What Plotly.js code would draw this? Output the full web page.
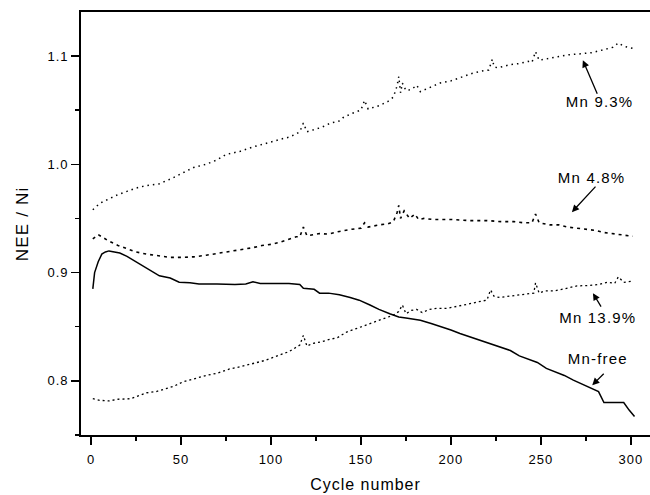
<!DOCTYPE html>
<html>
<head>
<meta charset="utf-8">
<script src="https://cdn.plot.ly/plotly-3.0.1.min.js"></script>
<style>
  html, body { margin: 0; padding: 0; background: #fff; }
  #plot { width: 650px; height: 495px; }
  #plot .annotation-text { letter-spacing: 1.2px; }
  #plot .xtitle, #plot .ytitle { letter-spacing: 1px; }
  #plot .xtick text, #plot .ytick text { letter-spacing: 1px; }
</style>
</head>
<body>
<div id="plot"></div>
<script>
// ---- data ----
const mn93_x = [1, 5, 10, 15, 20, 25, 30, 38, 45, 50, 57, 64, 70, 75, 83, 90, 95, 101, 105, 110, 114, 116, 118, 120, 124, 128, 133, 138, 140, 145, 150, 152, 154, 160, 165, 168, 170, 171, 172, 173, 175, 178, 181, 183, 187, 194, 200, 207, 212, 217, 221, 223, 224, 226, 230, 233, 238, 243, 245, 247, 249, 255, 260, 265, 272, 278, 283, 287, 290, 293, 296, 301];
const mn93_y = [0.958, 0.964, 0.968, 0.972, 0.975, 0.978, 0.980, 0.982, 0.987, 0.991, 0.997, 1.000, 1.004, 1.009, 1.012, 1.016, 1.018, 1.021, 1.023, 1.025, 1.028, 1.030, 1.038, 1.030, 1.032, 1.034, 1.038, 1.040, 1.043, 1.047, 1.050, 1.059, 1.051, 1.054, 1.058, 1.062, 1.072, 1.081, 1.066, 1.075, 1.068, 1.069, 1.073, 1.067, 1.070, 1.075, 1.077, 1.081, 1.084, 1.086, 1.087, 1.097, 1.090, 1.089, 1.091, 1.092, 1.093, 1.095, 1.094, 1.104, 1.096, 1.098, 1.099, 1.101, 1.102, 1.103, 1.105, 1.107, 1.108, 1.112, 1.109, 1.107];

const mn48_x = [1, 4, 7, 10, 15, 20, 25, 31, 38, 44, 50, 57, 64, 72, 80, 90, 95, 100, 105, 109, 114, 116, 118, 120, 127, 132, 138, 145, 150, 152, 154, 160, 165, 168, 170, 171, 172, 174, 177, 180, 182, 185, 190, 200, 210, 220, 228, 235, 240, 245, 247, 249, 255, 260, 265, 270, 275, 280, 285, 290, 295, 301];
const mn48_y = [0.931, 0.935, 0.932, 0.929, 0.925, 0.922, 0.919, 0.917, 0.915, 0.914, 0.914, 0.9145, 0.916, 0.918, 0.920, 0.923, 0.925, 0.926, 0.928, 0.930, 0.933, 0.933, 0.942, 0.934, 0.936, 0.9355, 0.938, 0.940, 0.941, 0.946, 0.942, 0.944, 0.945, 0.947, 0.955, 0.962, 0.950, 0.957, 0.950, 0.954, 0.949, 0.950, 0.949, 0.949, 0.948, 0.948, 0.947, 0.947, 0.946, 0.946, 0.954, 0.946, 0.944, 0.944, 0.942, 0.941, 0.940, 0.939, 0.937, 0.936, 0.935, 0.9335];

const mn139_x = [1, 5, 10, 15, 22, 26, 31, 36, 42, 46, 51, 57, 64, 70, 77, 83, 90, 97, 105, 110, 114, 116, 118, 120, 123, 128, 132, 137, 142, 147, 152, 157, 162, 168, 171, 173, 175, 178, 181, 184, 188, 192, 198, 205, 210, 215, 220, 222, 224, 227, 232, 238, 243, 246, 247, 249, 252, 257, 263, 270, 276, 282, 287, 291, 293, 296, 301];
const mn139_y = [0.7835, 0.782, 0.7815, 0.783, 0.7835, 0.786, 0.789, 0.790, 0.793, 0.795, 0.799, 0.802, 0.805, 0.807, 0.811, 0.813, 0.816, 0.819, 0.824, 0.827, 0.831, 0.833, 0.842, 0.832, 0.8345, 0.836, 0.838, 0.840, 0.845, 0.848, 0.851, 0.8545, 0.857, 0.8607, 0.864, 0.870, 0.862, 0.865, 0.866, 0.863, 0.866, 0.867, 0.867, 0.869, 0.871, 0.873, 0.8745, 0.884, 0.878, 0.877, 0.878, 0.879, 0.880, 0.881, 0.8905, 0.881, 0.883, 0.883, 0.885, 0.8877, 0.888, 0.889, 0.891, 0.890, 0.896, 0.891, 0.892];

const mnfree_x = [1, 2, 4, 6, 8, 10, 13, 16, 20, 25, 29, 33, 38, 44, 49, 55, 60, 70, 80, 86, 90, 94, 100, 106, 110, 116, 118, 124, 127, 132, 138, 144, 149, 155, 160, 166, 171, 175, 179, 183, 189, 194, 200, 205, 210, 216, 222, 227, 233, 238, 242, 248, 253, 258, 263, 268, 273, 276, 279, 282, 285, 289, 293, 296, 299, 302];
const mnfree_y = [0.885, 0.900, 0.910, 0.917, 0.919, 0.920, 0.919, 0.918, 0.915, 0.910, 0.906, 0.902, 0.897, 0.895, 0.891, 0.8905, 0.8895, 0.8895, 0.889, 0.8895, 0.8915, 0.890, 0.890, 0.8895, 0.890, 0.889, 0.8855, 0.8845, 0.881, 0.881, 0.8795, 0.877, 0.8745, 0.870, 0.866, 0.862, 0.859, 0.858, 0.857, 0.856, 0.853, 0.8505, 0.847, 0.8437, 0.841, 0.8376, 0.834, 0.8314, 0.828, 0.823, 0.8207, 0.817, 0.8115, 0.808, 0.805, 0.8006, 0.797, 0.7945, 0.792, 0.790, 0.780, 0.780, 0.780, 0.780, 0.773, 0.767];

const seriesNames = ["Mn 9.3%", "Mn 4.8%", "Mn 13.9%", "Mn-free"];
const xTickVals = [0, 50, 100, 150, 200, 250, 300];
const yTickVals = [0.8, 0.9, 1.0, 1.1];
const xTitle = "Cycle number";
const yTitle = "NEE / Ni";

// ---- traces ----
const black = "#000";
const traces = [
  {x: mn93_x, y: mn93_y, name: seriesNames[0], mode: "lines", line: {color: black, width: 1.5, dash: "1.5px,4px"}},
  {x: mn48_x, y: mn48_y, name: seriesNames[1], mode: "lines", line: {color: black, width: 1.6, dash: "3px,4px"}},
  {x: mn139_x, y: mn139_y, name: seriesNames[2], mode: "lines", line: {color: black, width: 1.3, dash: "2px,3px"}},
  {x: mnfree_x, y: mnfree_y, name: seriesNames[3], mode: "lines", line: {color: black, width: 1.5}}
];

const font = {family: "Liberation Sans, Arial, sans-serif", color: black};

function labelAnn(text, x, y) {
  return {x: x, y: y, xref: "x", yref: "y", text: text, showarrow: false,
          font: Object.assign({}, font, {size: 15}), xanchor: "center", yanchor: "middle"};
}
function arrowAnn(x, y, ax, ay) {
  return {x: x, y: y, xref: "x", yref: "y", text: "", showarrow: true,
          ax: ax, ay: ay, arrowhead: 2, arrowsize: 1.1, arrowwidth: 1.3, arrowcolor: black, standoff: 0};
}

const layout = {
  width: 650, height: 495,
  margin: {l: 81, r: 0, t: 12, b: 60},
  paper_bgcolor: "#fff", plot_bgcolor: "#fff",
  showlegend: false,
  font: Object.assign({}, font, {size: 13}),
  xaxis: {
    range: [-5.56, 310.6],
    tickvals: xTickVals, ticktext: xTickVals.map(String),
    ticks: "outside", ticklen: 8, tickwidth: 1.5, tickcolor: black,
    minor: {dtick: 25, tick0: 0, ticks: "outside", ticklen: 4, tickwidth: 1.5, tickcolor: black, showgrid: false},
    showline: true, linecolor: black, linewidth: 1.8, mirror: true,
    showgrid: false, zeroline: false,
    tickfont: Object.assign({}, font, {size: 13}),
    ticklabelstandoff: 4,
    title: {text: xTitle, font: Object.assign({}, font, {size: 16}), standoff: 12}
  },
  yaxis: {
    range: [0.75, 1.1406],
    tickvals: yTickVals, ticktext: yTickVals.map(v => v.toFixed(1)),
    ticksuffix: "\u2002\u2009",
    ticks: "outside", ticklen: 8, tickwidth: 1.5, tickcolor: black,
    minor: {dtick: 0.05, tick0: 0.75, ticks: "outside", ticklen: 4, tickwidth: 1.5, tickcolor: black, showgrid: false},
    showline: true, linecolor: black, linewidth: 1.8, mirror: false,
    showgrid: false, zeroline: false,
    tickfont: Object.assign({}, font, {size: 13})
  },
  annotations: [
    {x: -0.102, y: 0.5, xref: "paper", yref: "paper", text: yTitle, textangle: -90, showarrow: false,
     xanchor: "center", yanchor: "middle", font: Object.assign({}, font, {size: 17})},
    labelAnn(seriesNames[0], 282.8, 1.0576),
    labelAnn(seriesNames[1], 278.0, 0.9880),
    labelAnn(seriesNames[2], 281.7, 0.8587),
    labelAnn(seriesNames[3], 281.7, 0.8210),
    arrowAnn(273.3, 1.0961, 15, 35),
    arrowAnn(267.2, 0.9558, 25, -27),
    arrowAnn(278.9, 0.8810, 9, 15),
    arrowAnn(278.5, 0.7960, 13, -13)
  ]
};

Plotly.newPlot("plot", traces, layout, {displayModeBar: false, staticPlot: true});
</script>
</body>
</html>
